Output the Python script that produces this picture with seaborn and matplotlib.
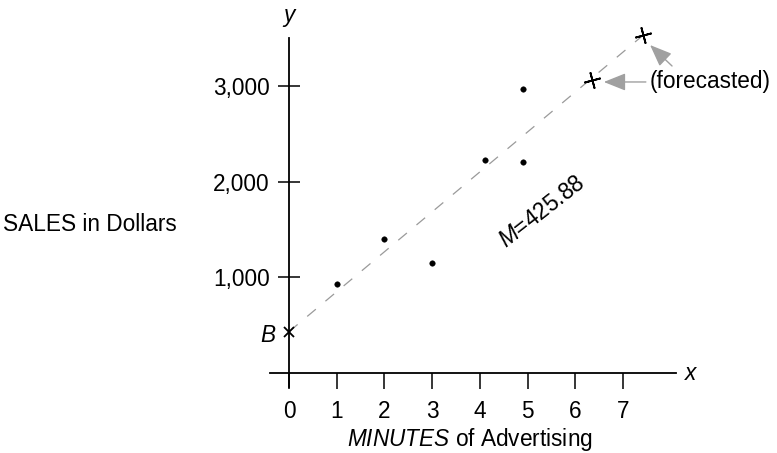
import matplotlib
matplotlib.use("Agg")
import matplotlib.pyplot as plt
import seaborn as sns
import pandas as pd

# ---- data ----
minutes = [1, 2, 3, 4.1, 4.9, 4.9]
sales = [930, 1400, 1150, 2230, 2970, 2210]
forecast_x = [6.35, 7.43]
forecast_y = [3063, 3533]
intercept_x = [0]
intercept_y = [432]
line_x = [0, 7.43]
line_y = [432, 3533]
x_ticks = [0, 1, 2, 3, 4, 5, 6, 7]
y_ticks = [1000, 2000, 3000]
y_tick_labels = ["1,000", "2,000", "3,000"]
slope_label = "$M$=425.88"

sns.set_theme(style="white")
plt.rcParams["font.family"] = ["Liberation Sans", "DejaVu Sans"]
plt.rcParams["mathtext.fontset"] = "custom"
plt.rcParams["mathtext.it"] = "Liberation Sans:italic"
plt.rcParams["mathtext.rm"] = "Liberation Sans"
plt.rcParams["text.color"] = "black"

FS = 16.3
fig = plt.figure(figsize=(7.77, 4.53), dpi=100)
ax = fig.add_axes([0, 0, 1, 1])
ax.set_facecolor("white")

# pixel mapping: x=0 -> 289px, 47.7 px/unit ; y=0 -> 373px from top, 95.67 px / 1000
ax.set_xlim(-289 / 47.7, (777 - 289) / 47.7)
ax.set_ylim(-(453 - 373) / 0.09567, 373 / 0.09567)

df = pd.DataFrame({"x": minutes, "y": sales})
sns.lineplot(x=line_x, y=line_y, ax=ax, color="#9a9a9a", lw=0.9,
             linestyle=(0, (9, 10)), zorder=1)
sns.scatterplot(data=df, x="x", y="y", ax=ax, color="black", s=16,
                edgecolor="black", linewidth=0.3, zorder=3)
ax.plot(forecast_x, forecast_y, linestyle="none", marker=(4, 2, 15),
        markersize=12, mec="black", mew=1.3, zorder=3)
ax.plot(intercept_x, intercept_y, linestyle="none", marker="x",
        markersize=7, mec="black", mew=1.3, zorder=3)

# axes as spines through the origin
for s in ["top", "right"]:
    ax.spines[s].set_visible(False)
ax.spines["left"].set_position(("data", 0))
ax.spines["bottom"].set_position(("data", 0))
ax.spines["left"].set_bounds(-150, 3500)
ax.spines["bottom"].set_bounds(-0.4, 8.11)
for s in ["left", "bottom"]:
    ax.spines[s].set_color("black")
    ax.spines[s].set_linewidth(1.3)

ax.set_xticks(x_ticks)
ax.set_xticklabels([str(t) for t in x_ticks])
ax.set_yticks(y_ticks)
ax.set_yticklabels(y_tick_labels)
ax.tick_params(axis="x", direction="out", length=11.5, width=1.1, pad=8,
               labelsize=FS, colors="black", labelcolor="black", bottom=True)
ax.tick_params(axis="y", direction="inout", length=16, width=1.1, pad=6,
               labelsize=FS, colors="black", labelcolor="black", left=True)
ax.set_xlabel("")
ax.set_ylabel("")
ax.grid(False)

# labels
ax.text(0, 3742, "y", fontsize=FS, style="italic", ha="center", va="center")
ax.text(8.41, 0, "x", fontsize=FS, style="italic", ha="center", va="center")
ax.text(-0.45, 397, "B", fontsize=FS, style="italic", ha="center", va="center")
ax.text(-6.0, 1550, "SALES in Dollars", fontsize=FS, ha="left", va="center")
ax.text(3.80, -700, "$MINUTES$ of Advertising", fontsize=FS, ha="center", va="center")
ax.text(5.31, 1680, slope_label, fontsize=FS, ha="center", va="center",
        rotation=38, rotation_mode="anchor")

arrow = dict(arrowstyle="-|>,head_length=0.75,head_width=0.3", color="#a0a0a0",
             lw=1.0, shrinkA=0, shrinkB=0, mutation_scale=18,
             facecolor="#c4c4c4", edgecolor="#8a8a8a")
ax.annotate("(forecasted)", xy=(6.60, 3042), xytext=(7.55, 3042),
            fontsize=FS, ha="left", va="center", arrowprops=arrow)
ax.annotate("", xy=(7.57, 3428), xytext=(8.03, 3209), arrowprops=arrow)

fig.savefig("out.png", dpi=100, facecolor="white")
